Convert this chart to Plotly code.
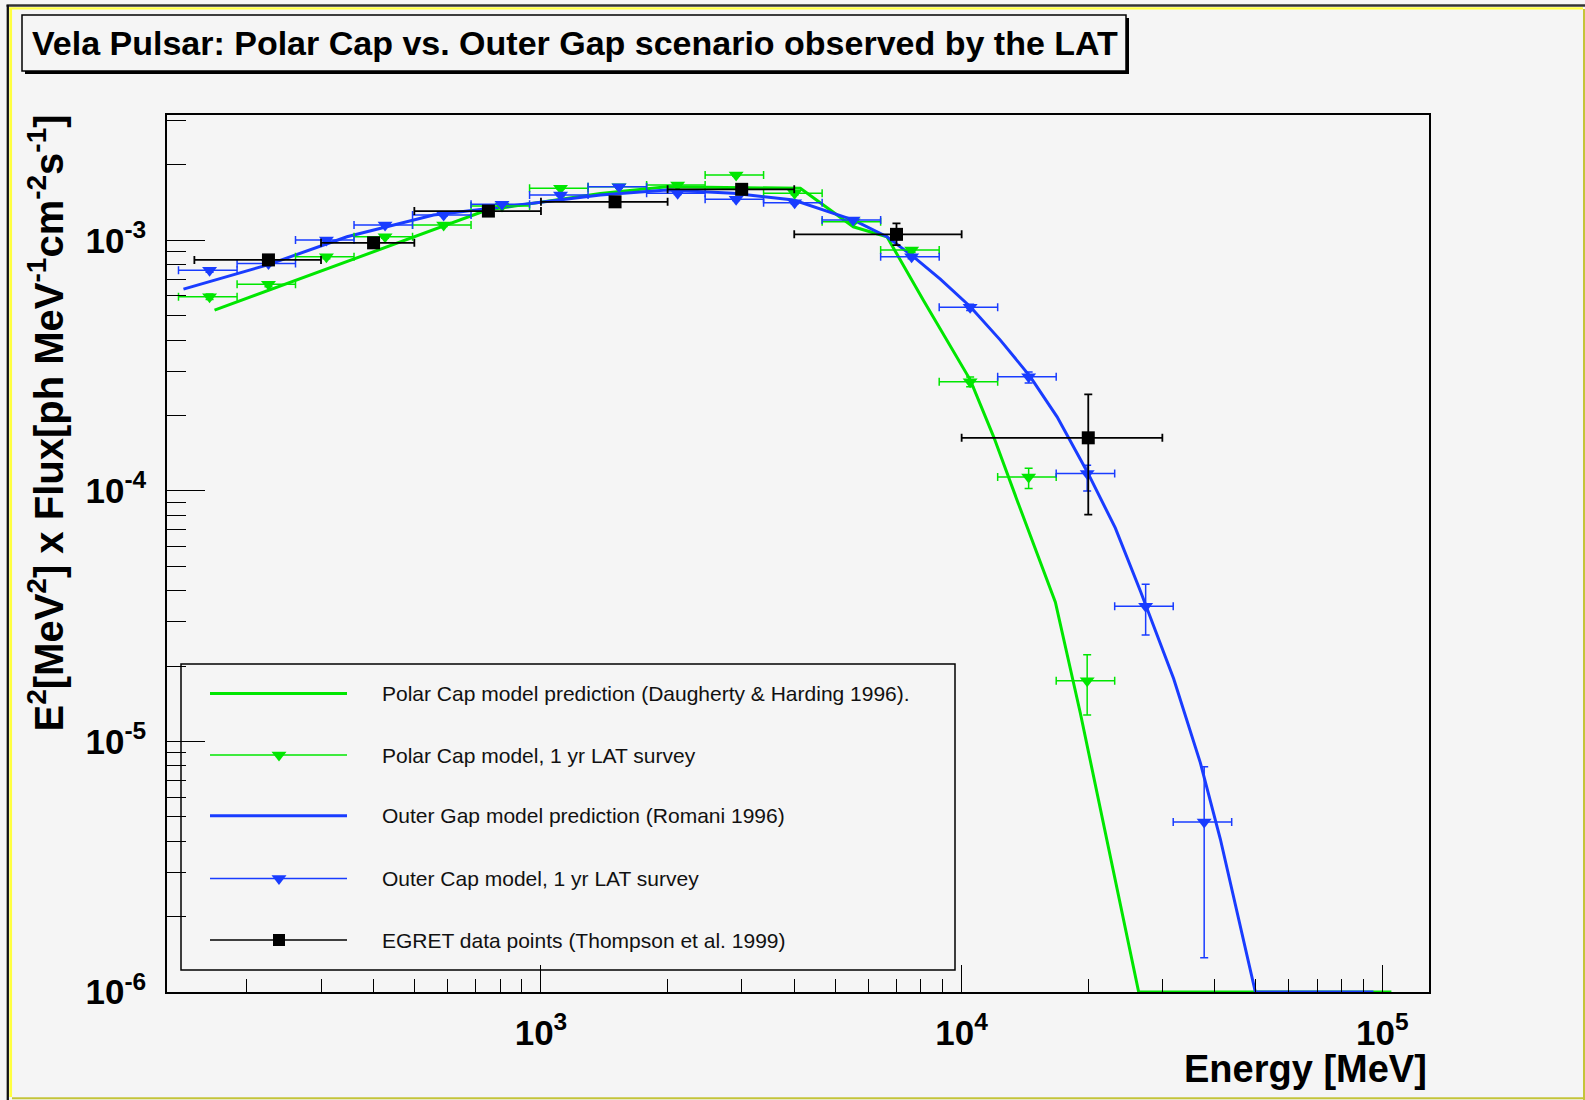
import plotly.graph_objects as go

# ---------------- data ----------------
# Polar Cap model prediction (Daugherty & Harding 1996)
pc_model_energy = [167.5, 744, 1384, 1993, 4136, 5527, 6645, 8110, 10488, 11917,
                   13545, 16253, 16705, 19153, 26355, 105100]
pc_model_flux = [5.26e-4, 1.32e-3, 1.539e-3, 1.636e-3, 1.612e-3, 1.132e-3, 1.033e-3,
                 5.77e-4, 2.767e-4, 1.643e-4, 9.18e-5, 4.13e-5, 3.595e-5, 1.296e-5,
                 1.0e-6, 1.0e-6]

# Outer Gap model prediction (Romani 1996)
og_model_energy = [141.3, 223, 345.8, 555.5, 1384, 1993, 2866, 3987, 5537, 6645, 7690,
                   8899, 10488, 12359, 14568, 16861, 19940, 23200, 26600, 31920, 36940,
                   41220, 49920, 95260]
og_model_flux = [6.385e-4, 7.96e-4, 1.033e-3, 1.261e-3, 1.515e-3, 1.586e-3, 1.539e-3,
                 1.447e-3, 1.204e-3, 1.033e-3, 8.59e-4, 7.00e-4, 5.43e-4, 3.996e-4,
                 2.852e-4, 1.974e-4, 1.182e-4, 7.10e-5, 3.985e-5, 1.778e-5, 8.21e-6,
                 4.07e-6, 1.0e-6, 1.0e-6]

# LAT 1 yr survey energy bins (edges and centres, MeV)
lat_bin_edges = [137.5, 189.5, 260.9, 359.4, 495.1, 682.0, 939.5, 1294, 1783, 2456,
                 3382, 4660, 6419, 8844, 12180, 16780, 23110, 31840, 43850]
lat_energy = [163, 225, 309, 426, 587, 808, 1113, 1533, 2113, 2910, 4009, 5521, 7605,
              10476, 14430, 19880, 27380, 37720]

# Polar Cap model, 1 yr LAT survey
pc_lat_flux = [5.95e-4, 6.67e-4, 8.59e-4, 1.033e-3, 1.150e-3, 1.369e-3, 1.612e-3,
               1.636e-3, 1.661e-3, 1.821e-3, 1.539e-3, 1.186e-3, 9.14e-4, 2.724e-4,
               1.137e-4, 1.747e-5]
pc_lat_err_up = [1.5e-5, 1.5e-5, 1.5e-5, 1.5e-5, 1.5e-5, 1.5e-5, 1.5e-5, 1.5e-5,
                 1.5e-5, 2e-5, 2e-5, 2e-5, 2e-5, 1.2e-5, 9.5e-6, 4.7e-6]
pc_lat_err_down = [1.5e-5, 1.5e-5, 1.5e-5, 1.5e-5, 1.5e-5, 1.5e-5, 1.5e-5, 1.5e-5,
                   1.5e-5, 2e-5, 2e-5, 2e-5, 2e-5, 1.2e-5, 1.15e-5, 4.73e-6]

# Outer Gap model, 1 yr LAT survey
og_lat_flux = [7.60e-4, 8.08e-4, 1.002e-3, 1.150e-3, 1.261e-3, 1.394e-3, 1.515e-3,
               1.636e-3, 1.539e-3, 1.457e-3, 1.411e-3, 1.204e-3, 8.59e-4, 5.40e-4,
               2.852e-4, 1.173e-4, 3.465e-5, 4.77e-6]
og_lat_err_up = [1.5e-5, 1.5e-5, 1.5e-5, 1.5e-5, 1.5e-5, 1.5e-5, 1.5e-5, 1.5e-5,
                 1.5e-5, 1.5e-5, 1.5e-5, 1.5e-5, 1.5e-5, 1.5e-5, 1.3e-5, 9.3e-6,
                 7.75e-6, 3.16e-6]
og_lat_err_down = [1.5e-5, 1.5e-5, 1.5e-5, 1.5e-5, 1.5e-5, 1.5e-5, 1.5e-5, 1.5e-5,
                   1.5e-5, 1.5e-5, 1.5e-5, 1.5e-5, 1.5e-5, 1.5e-5, 1.6e-5, 1.74e-5,
                   8.05e-6, 3.40e-6]

# EGRET data points (Thompson et al. 1999)
egret_energy = [225, 400, 750, 1500, 3000, 7000, 20000]
egret_e_low = [150, 300, 500, 1000, 2000, 4000, 10000]
egret_e_high = [300, 500, 1000, 2000, 4000, 10000, 30000]
egret_flux = [8.35e-4, 9.77e-4, 1.308e-3, 1.424e-3, 1.597e-3, 1.056e-3, 1.628e-4]
egret_err_up = [3e-5, 3e-5, 4e-5, 4e-5, 5e-5, 1.12e-4, 7.97e-5]
egret_err_down = [3e-5, 3e-5, 4e-5, 4e-5, 5e-5, 9.9e-5, 8.24e-5]

# axis ticks
x_tick_vals = [1e3, 1e4, 1e5]
x_tick_text = ["10<sup>3</sup>", "10<sup>4</sup>", "10<sup>5</sup>"]
y_tick_vals = [1e-6, 1e-5, 1e-4, 1e-3]
y_tick_text = ["10<sup>-6</sup>", "10<sup>-5</sup>", "10<sup>-4</sup>", "10<sup>-3</sup>"]
minor_mult = [2, 3, 4, 5, 6, 7, 8, 9]

legend_labels = [
    "Polar Cap model prediction (Daugherty & Harding 1996).",
    "Polar Cap model, 1 yr LAT survey",
    "Outer Gap model prediction (Romani 1996)",
    "Outer Cap model, 1 yr LAT survey",
    "EGRET data points (Thompson et al. 1999)",
]

title_text = "Vela Pulsar: Polar Cap vs. Outer Gap scenario observed by the LAT"
y_title = "E<sup>2</sup>[MeV<sup>2</sup>] x Flux[ph MeV<sup>-1</sup>cm<sup>-2</sup>s<sup>-1</sup>]"
x_title = "Energy [MeV]"

# ---------------- layout geometry ----------------
W, H = 1585, 1100
L, R, T, B = 167, 1429, 115, 992
PW, PH = R - L, B - T


def px(x):
    return (x - L) / PW


def py(y):
    return (B - y) / PH


GREEN = "rgb(0,230,0)"
BLUE = "rgb(25,60,255)"
BLACK = "black"
BG = "#f5f5f5"
FONT = "Liberation Sans, Arial, sans-serif"
TRI = 13
SQ = 13

n_pc = len(pc_lat_flux)
n_og = len(og_lat_flux)
pc_x = lat_energy[:n_pc]
og_x = lat_energy[:n_og]
pc_xp = [lat_bin_edges[i + 1] - pc_x[i] for i in range(n_pc)]
pc_xm = [pc_x[i] - lat_bin_edges[i] for i in range(n_pc)]
og_xp = [lat_bin_edges[i + 1] - og_x[i] for i in range(n_og)]
og_xm = [og_x[i] - lat_bin_edges[i] for i in range(n_og)]
eg_xp = [h - e for h, e in zip(egret_e_high, egret_energy)]
eg_xm = [e - l for l, e in zip(egret_e_low, egret_energy)]

fig = go.Figure()

fig.add_trace(go.Scatter(x=pc_model_energy, y=pc_model_flux, mode="lines",
                         line=dict(color=GREEN, width=3), showlegend=False))
fig.add_trace(go.Scatter(x=og_model_energy, y=og_model_flux, mode="lines",
                         line=dict(color=BLUE, width=3), showlegend=False))

fig.add_trace(go.Scatter(
    x=pc_x, y=pc_lat_flux, mode="markers",
    marker=dict(symbol="triangle-down", size=TRI, color=GREEN),
    error_x=dict(type="data", symmetric=False, array=pc_xp, arrayminus=pc_xm,
                 color=GREEN, thickness=1.5, width=4),
    error_y=dict(type="data", symmetric=False, array=pc_lat_err_up,
                 arrayminus=pc_lat_err_down, color=GREEN, thickness=1.5, width=4),
    showlegend=False))
fig.add_trace(go.Scatter(
    x=og_x, y=og_lat_flux, mode="markers",
    marker=dict(symbol="triangle-down", size=TRI, color=BLUE),
    error_x=dict(type="data", symmetric=False, array=og_xp, arrayminus=og_xm,
                 color=BLUE, thickness=1.5, width=4),
    error_y=dict(type="data", symmetric=False, array=og_lat_err_up,
                 arrayminus=og_lat_err_down, color=BLUE, thickness=1.5, width=4),
    showlegend=False))
fig.add_trace(go.Scatter(
    x=egret_energy, y=egret_flux, mode="markers",
    marker=dict(symbol="square", size=SQ, color=BLACK),
    error_x=dict(type="data", symmetric=False, array=eg_xp, arrayminus=eg_xm,
                 color=BLACK, thickness=1.8, width=4),
    error_y=dict(type="data", symmetric=False, array=egret_err_up,
                 arrayminus=egret_err_down, color=BLACK, thickness=1.8, width=4),
    showlegend=False))

# ---------------- legend (drawn manually in pixel space) ----------------
leg_rows = [693.5, 755, 815.7, 878.5, 940]
leg_x0, leg_x1, leg_xm, leg_tx = 210, 347, 279, 380
leg_styles = [
    dict(color=GREEN, width=3, symbol=None),
    dict(color=GREEN, width=1.5, symbol="triangle-down"),
    dict(color=BLUE, width=3, symbol=None),
    dict(color=BLUE, width=1.5, symbol="triangle-down"),
    dict(color=BLACK, width=1.5, symbol="square"),
]
for yrow, st in zip(leg_rows, leg_styles):
    fig.add_trace(go.Scatter(x=[leg_x0, leg_x1], y=[yrow, yrow], mode="lines",
                             line=dict(color=st["color"], width=st["width"]),
                             xaxis="x2", yaxis="y2", showlegend=False, hoverinfo="skip"))
    if st["symbol"]:
        fig.add_trace(go.Scatter(x=[leg_xm], y=[yrow], mode="markers",
                                 marker=dict(symbol=st["symbol"],
                                             size=TRI if st["symbol"] != "square" else 12,
                                             color=st["color"]),
                                 xaxis="x2", yaxis="y2", showlegend=False, hoverinfo="skip"))

annotations = []
for yrow, lab in zip(leg_rows, legend_labels):
    annotations.append(dict(x=px(leg_tx), y=py(yrow), xref="paper", yref="paper",
                            text=lab, showarrow=False, xanchor="left", yanchor="middle",
                            font=dict(family=FONT, size=21, color="#111")))

# title
annotations.append(dict(x=px(30), y=py(43.5), xref="paper", yref="paper", text=title_text,
                        showarrow=False, xanchor="left", yanchor="middle",
                        font=dict(family=FONT, size=34, color="black", weight="bold")))
# axis titles
annotations.append(dict(x=px(46), y=py(113), xref="paper", yref="paper", text=y_title,
                        showarrow=False, textangle=-90, xanchor="center", yanchor="top",
                        font=dict(family=FONT, size=40, color="black", weight="bold")))
annotations.append(dict(x=px(1429), y=py(1069), xref="paper", yref="paper", text=x_title,
                        showarrow=False, xanchor="right", yanchor="middle",
                        font=dict(family=FONT, size=38, color="black", weight="bold")))

shapes = []
# legend box
shapes.append(dict(type="rect", xref="paper", yref="paper", x0=px(181), x1=px(955),
                   y0=py(664), y1=py(970), line=dict(color="black", width=1.5)))
# title box with shadow
shapes.append(dict(type="rect", xref="paper", yref="paper", x0=px(25), x1=px(1129),
                   y0=py(18), y1=py(74), fillcolor="black", line=dict(width=0)))
shapes.append(dict(type="rect", xref="paper", yref="paper", x0=px(22), x1=px(1126),
                   y0=py(15), y1=py(71), fillcolor=BG, line=dict(color="black", width=1.5)))
# canvas bevel border
shapes.append(dict(type="line", xref="paper", yref="paper", x0=px(6.5), x1=px(1585),
                   y0=py(5.5), y1=py(5.5), line=dict(color="#333333", width=2.3)))
shapes.append(dict(type="line", xref="paper", yref="paper", x0=px(9), x1=px(1583),
                   y0=py(8.3), y1=py(8.3), line=dict(color="#ffff40", width=2.2)))
shapes.append(dict(type="line", xref="paper", yref="paper", x0=px(7.8), x1=px(7.8),
                   y0=py(5), y1=py(1100), line=dict(color="#111111", width=2.3)))
shapes.append(dict(type="line", xref="paper", yref="paper", x0=px(10.7), x1=px(10.7),
                   y0=py(9), y1=py(1097), line=dict(color="#ffff40", width=2.7)))
shapes.append(dict(type="line", xref="paper", yref="paper", x0=px(1584), x1=px(1584),
                   y0=py(9), y1=py(1100), line=dict(color="#c4c43a", width=2)))
shapes.append(dict(type="line", xref="paper", yref="paper", x0=px(12), x1=px(1585),
                   y0=py(1098.3), y1=py(1098.3), line=dict(color="#c4c43a", width=2)))

x_minor = [m * 10 ** d for d in (2, 3, 4, 5) for m in minor_mult]
y_minor = [m * 10.0 ** d for d in (-6, -5, -4, -3) for m in minor_mult]

fig.update_layout(
    width=W, height=H,
    margin=dict(l=L, r=W - R, t=T, b=H - B, autoexpand=False),
    paper_bgcolor=BG, plot_bgcolor=BG,
    showlegend=False,
    font=dict(family=FONT, color="black"),
    xaxis=dict(type="log", range=[2.111, 5.111], showgrid=False, zeroline=False,
               showline=True, linecolor="black", linewidth=1.5, mirror=True,
               ticks="inside", ticklen=27, tickwidth=1.3, tickcolor="black",
               tickmode="array", tickvals=x_tick_vals, ticktext=x_tick_text,
               tickfont=dict(family=FONT, size=35, color="black", weight="bold"),
               ticklabelstandoff=9,
               minor=dict(ticks="inside", ticklen=13, tickwidth=1.2, tickcolor="black",
                          tickmode="array", tickvals=x_minor, showgrid=False)),
    yaxis=dict(type="log", range=[-6, -2.5], showgrid=False, zeroline=False,
               showline=True, linecolor="black", linewidth=1.5, mirror=True,
               ticks="inside", ticklen=38, tickwidth=1.3, tickcolor="black",
               tickmode="array", tickvals=y_tick_vals, ticktext=y_tick_text,
               tickfont=dict(family=FONT, size=35, color="black", weight="bold"),
               ticklabelstandoff=12,
               minor=dict(ticks="inside", ticklen=19, tickwidth=1.2, tickcolor="black",
                          tickmode="array", tickvals=y_minor, showgrid=False)),
    xaxis2=dict(overlaying="x", range=[L, R], visible=False, fixedrange=True),
    yaxis2=dict(overlaying="y", range=[B, T], visible=False, fixedrange=True),
    annotations=annotations,
    shapes=shapes,
)

fig.write_html("out.html")
